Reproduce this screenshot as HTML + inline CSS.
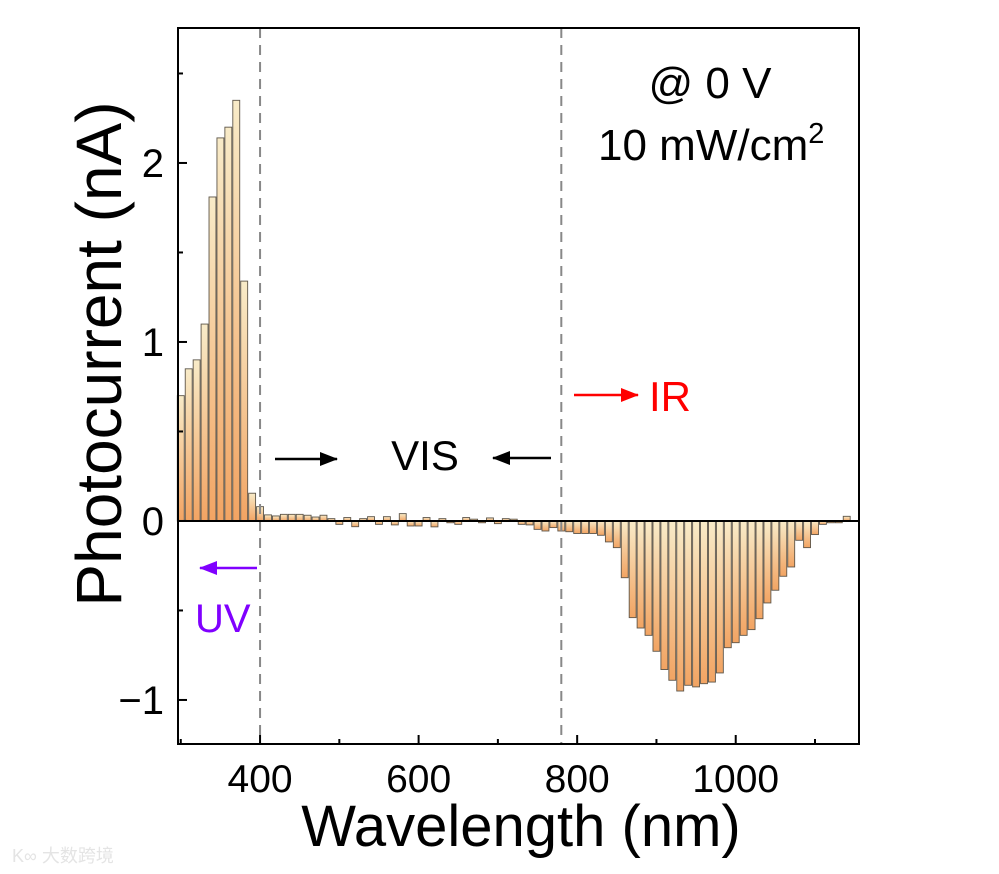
<!DOCTYPE html>
<html><head><meta charset="utf-8">
<style>
html,body{margin:0;padding:0;background:#fff;}
svg{display:block;font-family:"Liberation Sans",Arial,sans-serif;}
</style></head>
<body>
<svg id="chart" width="999" height="874" viewBox="0 0 999 874" xmlns="http://www.w3.org/2000/svg">
<defs>
<linearGradient id="barGrad" x1="0" y1="0" x2="0" y2="1">
<stop offset="0" stop-color="#f8ebc8"/>
<stop offset="1" stop-color="#f2a463"/>
</linearGradient>
</defs>
<g id="bars"></g>
<g id="axes"></g>
</svg>
<script>
const wavelengths = [];
for (let w = 300; w <= 1140; w += 10) wavelengths.push(w);
const photocurrent = [
 0.70,0.85,0.90,1.10,1.81,2.14,2.20,2.35,1.34,0.155,
 0.08,0.034,0.028,0.037,0.037,0.037,0.032,0.022,0.032,0.013,
 -0.019,0.019,-0.032,0.013,0.024,-0.019,0.024,-0.022,0.041,-0.028,
 -0.028,0.019,-0.033,0.013,-0.01,-0.019,0.019,0.01,-0.01,0.017,
 -0.015,0.013,0.01,-0.019,-0.022,-0.047,-0.056,-0.037,-0.056,-0.06,
 -0.07,-0.07,-0.07,-0.08,-0.117,-0.149,-0.317,-0.54,-0.598,-0.639,
 -0.728,-0.83,-0.89,-0.95,-0.918,-0.927,-0.909,-0.90,-0.849,-0.708,
 -0.68,-0.639,-0.607,-0.546,-0.458,-0.387,-0.309,-0.257,-0.108,-0.149,
 -0.076,-0.019,-0.01,-0.01,0.026
];
const xTicks = [400,600,800,1000];
const xMinor = [300,500,700,900,1100];
const yTicks = [-1,0,1,2];
const yMinor = [-0.5,0.5,1.5,2.5];
const dashedLines = [400,780];

const L=178,R=859,T=28,B=744;
const X0=296.5, X1=1155.5, Y0=-1.246, Y1=2.754;
const xs = v => L + (v - X0) / (X1 - X0) * (R - L);
const ys = v => B - (v - Y0) / (Y1 - Y0) * (B - T);
const NS="http://www.w3.org/2000/svg";
function mk(tag, attrs, parent){const e=document.createElementNS(NS,tag);for(const k in attrs)e.setAttribute(k,attrs[k]);parent.appendChild(e);return e;}
const gb=document.getElementById('bars');
const ga=document.getElementById('axes');
const bw = (xs(10)-xs(0)) - 1;
wavelengths.forEach((w,i)=>{
  const v=photocurrent[i];
  const y=Math.min(ys(v),ys(0)), h=Math.abs(ys(v)-ys(0));
  const r=mk('rect',{x:xs(w)-bw/2,y:y,width:bw,height:Math.max(h,0.5),fill:'url(#barGrad)',stroke:'#5e564a','stroke-width':0.9},gb);
  
  
});
dashedLines.forEach(w=>{
  const l=mk('line',{x1:xs(w),x2:xs(w),y1:T,y2:B,stroke:'#888','stroke-width':2,'stroke-dasharray':'10,7'},ga);
  
  
});
const zl=mk('line',{x1:L,x2:R,y1:ys(0),y2:ys(0),stroke:'#000','stroke-width':2},ga);


const fr=mk('rect',{x:L,y:T,width:R-L,height:B-T,fill:'none',stroke:'#000','stroke-width':2},ga);


xTicks.forEach(v=>{
  mk('line',{x1:xs(v),x2:xs(v),y1:B,y2:B-9,stroke:'#000','stroke-width':2},ga);
  const t=mk('text',{x:xs(v),y:B+48,'font-size':39,'text-anchor':'middle'},ga);
  t.textContent=v;
  
  
});
xMinor.forEach(v=>{mk('line',{x1:xs(v),x2:xs(v),y1:B,y2:B-5,stroke:'#000','stroke-width':2},ga);});
yTicks.forEach(v=>{
  mk('line',{x1:L,x2:L+9,y1:ys(v),y2:ys(v),stroke:'#000','stroke-width':2},ga);
  const t=mk('text',{x:L-14,y:ys(v)+14,'font-size':40,'text-anchor':'end'},ga);
  t.textContent=v<0?'\u2212'+Math.abs(v):String(v);
  
  
});
yMinor.forEach(v=>{mk('line',{x1:L,x2:L+5,y1:ys(v),y2:ys(v),stroke:'#000','stroke-width':2},ga);});
</script>
<svg style="position:absolute;left:0;top:0" width="999" height="874" viewBox="0 0 999 874" xmlns="http://www.w3.org/2000/svg" font-family="Liberation Sans, Arial, sans-serif">
<defs>
<marker id="ahK" markerWidth="18" markerHeight="14" refX="17" refY="7" orient="auto" markerUnits="userSpaceOnUse"><path d="M0,0 L18,7 L0,14 z" fill="#000"/></marker>
<marker id="ahR" markerWidth="18" markerHeight="14" refX="17" refY="7" orient="auto" markerUnits="userSpaceOnUse"><path d="M0,0 L18,7 L0,14 z" fill="#ff0000"/></marker>
<marker id="ahP" markerWidth="18" markerHeight="14" refX="17" refY="7" orient="auto" markerUnits="userSpaceOnUse"><path d="M0,0 L18,7 L0,14 z" fill="#8000ff"/></marker>
</defs>
<text transform="translate(121,354) rotate(-90)" font-size="64" text-anchor="middle">Photocurrent (nA)</text>
<text x="521" y="846" font-size="58" text-anchor="middle">Wavelength (nm)</text>
<text x="710" y="98" font-size="44" text-anchor="middle">@ 0 V</text>
<text x="598" y="160" font-size="44">10 mW/cm<tspan font-size="29" dy="-17">2</tspan></text>
<text x="425" y="470" font-size="42" text-anchor="middle">VIS</text>
<line x1="275" y1="459" x2="337" y2="459" stroke="#000" stroke-width="2.5" marker-end="url(#ahK)"/>
<line x1="551" y1="458" x2="493" y2="458" stroke="#000" stroke-width="2.5" marker-end="url(#ahK)"/>
<text x="649" y="411" font-size="42" fill="#ff0000">IR</text>
<line x1="574" y1="395" x2="638" y2="395" stroke="#ff0000" stroke-width="2.5" marker-end="url(#ahR)"/>
<text x="195" y="632" font-size="40" fill="#8000ff">UV</text>
<line x1="257" y1="568" x2="200" y2="568" stroke="#8000ff" stroke-width="2.5" marker-end="url(#ahP)"/>
<text x="12" y="862" font-size="18" fill="#e4e4e4" font-family="Liberation Sans, Noto Sans CJK SC, sans-serif">K∞ 大数跨境</text>
</svg>
</body></html>
